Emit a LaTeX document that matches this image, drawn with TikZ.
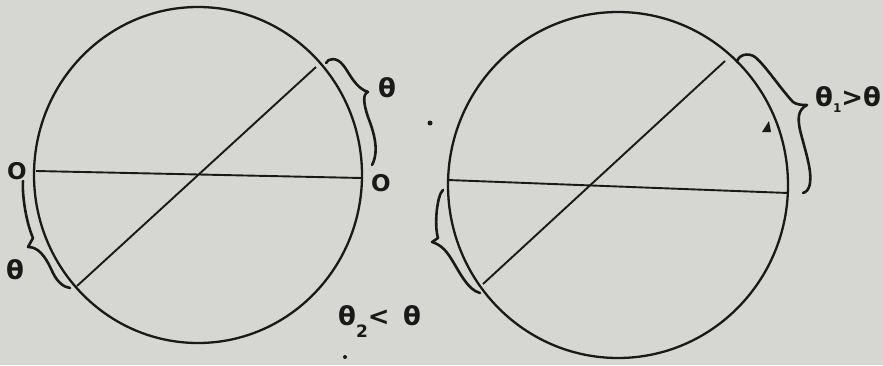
\documentclass[tikz,border=0pt]{standalone}
\usepackage{fontspec}
\setmainfont{DejaVu Sans}
\definecolor{paper}{RGB}{214,214,210}
\definecolor{ink}{RGB}{25,25,25}
\tikzset{
  rim/.style={draw=ink, line width=2.3pt},
  chord/.style={draw=ink, line width=1.9pt},
  hbrace/.style={draw=ink, line width=2.6pt, line cap=round, line join=round},
  lbl/.style={text=ink, font=\fontsize{26}{30}\selectfont\bfseries, inner sep=0pt},
  olbl/.style={text=ink, font=\fontsize{23}{28}\selectfont\bfseries, inner sep=0pt},
  pendot/.style={fill=ink, circle, inner sep=0pt, minimum size=5pt}
}
\begin{document}
\begin{tikzpicture}[x=1pt,y=-1pt]
\fill[paper] (0,0) rectangle (883,365);
\useasboundingbox (0,0) rectangle (883,365);

% left circle
\draw[rim] (198,175) ellipse [x radius=164pt, y radius=168pt];
\coordinate (LA) at (36,171);
\coordinate (LB) at (362,178);
\coordinate (LC) at (316,67);
\coordinate (LD) at (77,286);
\draw[chord] (LA) -- (LB);
\draw[chord] (LC) -- (LD);

% right circle
\draw[rim] (618,185) ellipse [x radius=170pt, y radius=173pt];
\coordinate (RA) at (448,180);
\coordinate (RB) at (788,193);
\coordinate (RC) at (725,61);
\coordinate (RD) at (483,284);
\draw[chord] (RA) -- (RB);
\draw[chord] (RC) -- (RD);

% braces, left circle
\draw[hbrace] (326,63) .. controls (328,58) and (337,57) .. (343,65)
  .. controls (349,72) and (355,88) .. (368,92)
  .. controls (362,94) and (364,105) .. (368,117)
  .. controls (373,130) and (380,150) .. (372,165);
\draw[hbrace] (23,181) .. controls (22,195) and (26,222) .. (33,238)
  -- (28,247)
  .. controls (38,247) and (45,255) .. (53,273)
  .. controls (58,283) and (64,287) .. (70,288);

% braces, right circle
\draw[hbrace] (737,62) .. controls (738,55) and (748,52) .. (755,57)
  .. controls (765,65) and (780,88) .. (793,102)
  .. controls (797,105) and (803,105) .. (807,105)
  .. controls (797,110) and (798,120) .. (800,130)
  .. controls (805,150) and (812,170) .. (810,183)
  .. controls (809,190) and (806,192) .. (803,193);
\draw[hbrace] (443,190) .. controls (437,195) and (434,225) .. (438,238)
  -- (432,242)
  .. controls (442,245) and (447,252) .. (452,260)
  .. controls (460,273) and (468,290) .. (480,293);

% small mark on right circle
\fill[ink] (762,132) -- (769,121) -- (771,132) -- cycle;

% labels
\node[lbl] (t1) at (387,88) {θ};
\node[olbl] (o1) at (17,171) {O};
\node[olbl] (o2) at (381,183) {O};
\node[lbl] (t2) at (15,270) {θ};
\node[lbl, anchor=west] (t3) at (815,100) {θ\raisebox{-6pt}{\fontsize{12}{12}\selectfont 1}>θ};
\node[lbl, anchor=west] (t4) at (338,322) {θ\raisebox{-12pt}{\fontsize{17}{17}\selectfont 2}< \,θ};

\node[pendot] (d1) at (430,123) {};
\node[pendot, minimum size=4pt] (d2) at (345,357) {};
\end{tikzpicture}
\end{document}
